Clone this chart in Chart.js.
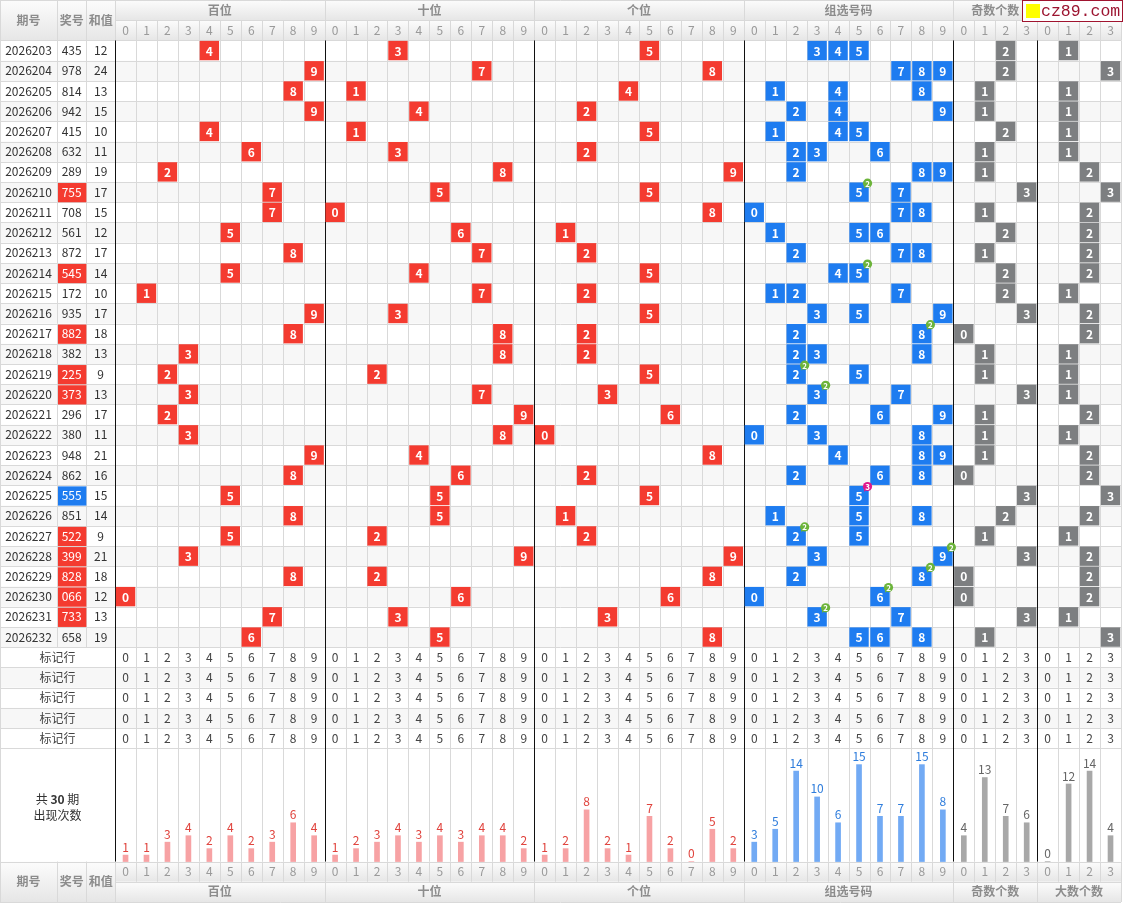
<!DOCTYPE html>
<html lang="zh-CN">
<head>
<meta charset="utf-8">
<title>排列三 组选走势图</title>
<script src="https://cdn.jsdelivr.net/npm/chart.js@4.4.1/dist/chart.umd.min.js"></script>
<style>
  html, body { margin: 0; padding: 0; background: #fff; }
  #wrap { width: 1126px; height: 905px; }
</style>
</head>
<body>
<div id="wrap"><canvas id="trend" width="1126" height="905"></canvas></div>
<script>
// ========== DATA ==========

const periods = ['2026203', '2026204', '2026205', '2026206', '2026207', '2026208', '2026209', '2026210',
    '2026211', '2026212', '2026213', '2026214', '2026215', '2026216', '2026217', '2026218', '2026219',
    '2026220', '2026221', '2026222', '2026223', '2026224', '2026225', '2026226', '2026227', '2026228',
    '2026229', '2026230', '2026231', '2026232'];
const draws = ['435', '978', '814', '942', '415', '632', '289', '755', '708', '561', '872', '545', '172',
    '935', '882', '382', '225', '373', '296', '380', '948', '862', '555', '851', '522', '399', '828',
    '066', '733', '658'];
const sums = [12, 24, 13, 15, 10, 11, 19, 17, 15, 12, 17, 14, 10, 17, 18, 13, 9, 13, 17, 11, 21, 16, 15,
    14, 9, 21, 18, 12, 13, 19];

const digitTicks = ['0', '1', '2', '3', '4', '5', '6', '7', '8', '9'];
const countTicks = ['0', '1', '2', '3'];
const groupNames = ['百位', '十位', '个位', '组选号码', '奇数个数', '大数个数'];

// occurrences over the 30 draws (bottom bar block)
const hundredsCount = [1, 1, 3, 4, 2, 4, 2, 3, 6, 4];
const tensCount = [1, 2, 3, 4, 3, 4, 3, 4, 4, 2];
const unitsCount = [1, 2, 8, 2, 1, 7, 2, 0, 5, 2];
const comboCount = [3, 5, 14, 10, 6, 15, 7, 7, 15, 8];
const oddCount = [4, 13, 7, 6];
const bigCount = [0, 12, 14, 4];

// ========== LAYOUT (table units) ==========

const X_MIN = -5.49, X_MAX = 48;
const LEFT_EDGES = [-5.49, -2.77, -1.37, 0];
const GROUP_START = [0, 10, 20, 30, 40, 44];
const GROUP_END = [10, 20, 30, 40, 44, 48];
const DATA_TOP = 2, MARK_TOP = 32, MARK_ROWS = 5, BAR_TOP = 37, FOOT_TOP = 42.6, Y_MAX = 44.6;
const COUNT_PER_ROW = 3.13;

const FONT = '"Noto Sans CJK SC", "Noto Sans", sans-serif';
const RED = '#f43b30', BLUE = '#1e7cf0', GRAY = '#7d7f81';
const LINE = '#d9d9d9', STRIPE = '#f7f7f7';

// ========== CELLS ==========

const posCells = [], comboCells = [], countCells = [];
draws.forEach((d, i) => {
    const y = DATA_TOP + i + 0.5;
    const nums = d.split('').map(Number);
    nums.forEach((n, k) => posCells.push({ x: k * 10 + n + 0.5, y, v: n }));
    const seen = {};
    nums.forEach(n => { seen[n] = (seen[n] || 0) + 1; });
    Object.keys(seen).forEach(n => comboCells.push({ x: 30 + Number(n) + 0.5, y, v: n, n: seen[n] }));
    const odd = nums.filter(n => n % 2 === 1).length;
    const big = nums.filter(n => n >= 5).length;
    countCells.push({ x: 40 + odd + 0.5, y, v: odd });
    countCells.push({ x: 44 + big + 0.5, y, v: big });
});

const barSets = [hundredsCount, tensCount, unitsCount, comboCount, oddCount, bigCount];
const barFill = ['#f7a2a4', '#f7a2a4', '#f7a2a4', '#72aaf4', '#a8a8a8', '#a8a8a8'];
const barText = ['#e0433d', '#e0433d', '#e0433d', '#2f7ddc', '#666', '#666'];
const barData = [], barColors = [], barLabelColors = [];
barSets.forEach((arr, g) => {
    arr.forEach((c, d) => {
        barData.push({ x: GROUP_START[g] + d + 0.5, y: c });
        barColors.push(barFill[g]);
        barLabelColors.push(barText[g]);
    });
});

// ========== HELPERS ==========

function text(ctx, s, x, y, font, color, align) {
    ctx.font = font;
    ctx.fillStyle = color;
    ctx.textAlign = align || 'center';
    ctx.textBaseline = 'middle';
    ctx.fillText(s, x, y);
}

function crisp(p) {
    return Math.round(p) + 0.5;
}

// ========== TABLE PLUGIN ==========

const tablePlugin = {
    id: 'trendTable',
    beforeDatasetsDraw(chart) {
        const { ctx } = chart;
        const X = v => chart.scales.x.getPixelForValue(v);
        const Y = v => chart.scales.y.getPixelForValue(v);

        const band = (x0, x1, y0, y1, fill) => {
            ctx.fillStyle = fill;
            ctx.fillRect(X(x0), Y(y0), X(x1) - X(x0), Y(y1) - Y(y0));
        };
        const grad = (x0, x1, y0, y1) => {
            const g = ctx.createLinearGradient(0, Y(y0), 0, Y(y1));
            g.addColorStop(0, '#fcfcfc');
            g.addColorStop(1, '#e6e6e6');
            band(x0, x1, y0, y1, g);
        };
        const hLine = (x0, x1, y, color) => {
            ctx.strokeStyle = color || LINE;
            ctx.beginPath();
            ctx.moveTo(X(x0), crisp(Y(y)));
            ctx.lineTo(X(x1), crisp(Y(y)));
            ctx.stroke();
        };
        const vLine = (x, y0, y1, color) => {
            ctx.strokeStyle = color || LINE;
            ctx.beginPath();
            ctx.moveTo(crisp(X(x)), Y(y0));
            ctx.lineTo(crisp(X(x)), Y(y1));
            ctx.stroke();
        };

        ctx.save();
        ctx.lineWidth = 1;
        band(X_MIN, X_MAX, 0, Y_MAX, '#fff');

        // striped rows
        for (let i = 1; i < periods.length; i += 2) band(X_MIN, X_MAX, DATA_TOP + i, DATA_TOP + i + 1, STRIPE);
        for (let i = 1; i < MARK_ROWS; i += 2) band(X_MIN, X_MAX, MARK_TOP + i, MARK_TOP + i + 1, STRIPE);

        // header + footer shading
        for (let k = 0; k < 3; k++) {
            grad(LEFT_EDGES[k], LEFT_EDGES[k + 1], 0, DATA_TOP);
            grad(LEFT_EDGES[k], LEFT_EDGES[k + 1], FOOT_TOP, Y_MAX);
        }
        grad(0, X_MAX, 0, 1);
        grad(0, X_MAX, 1, 2);
        grad(0, X_MAX, FOOT_TOP, FOOT_TOP + 1);
        grad(0, X_MAX, FOOT_TOP + 1, Y_MAX);

        // horizontal rules
        hLine(X_MIN, X_MAX, 0);
        hLine(0, X_MAX, 1);
        for (let r = DATA_TOP; r <= BAR_TOP; r++) hLine(X_MIN, X_MAX, r);
        hLine(X_MIN, X_MAX, FOOT_TOP);
        hLine(0, X_MAX, FOOT_TOP + 1);
        hLine(X_MIN, X_MAX, Y_MAX);

        // vertical rules
        for (let c = 0; c <= X_MAX; c++) {
            const edge = GROUP_START.includes(c) || c === X_MAX;
            vLine(c, edge ? 0 : 1, DATA_TOP);
            vLine(c, DATA_TOP, FOOT_TOP);
            vLine(c, FOOT_TOP, edge ? Y_MAX : FOOT_TOP + 1);
        }
        vLine(X_MIN, 0, Y_MAX);
        [LEFT_EDGES[1], LEFT_EDGES[2]].forEach(e => {
            vLine(e, 0, MARK_TOP);
            vLine(e, FOOT_TOP, Y_MAX);
        });
        GROUP_START.forEach(c => vLine(c, DATA_TOP, FOOT_TOP, '#111'));

        // header / footer captions
        const HEAD_FONT = '12px ' + FONT;
        const leftNames = ['期号', '奖号', '和值'];
        leftNames.forEach((s, k) => {
            const cx = (X(LEFT_EDGES[k]) + X(LEFT_EDGES[k + 1])) / 2;
            text(ctx, s, cx, Y(1), 'bold ' + HEAD_FONT, '#8c8c8c');
            text(ctx, s, cx, Y(FOOT_TOP + 1), 'bold ' + HEAD_FONT, '#8c8c8c');
        });
        groupNames.forEach((s, g) => {
            const cx = (X(GROUP_START[g]) + X(GROUP_END[g])) / 2;
            text(ctx, s, cx, Y(0.5), 'bold ' + HEAD_FONT, '#8c8c8c');
            text(ctx, s, cx, Y(FOOT_TOP + 1.5), 'bold ' + HEAD_FONT, '#8c8c8c');
            const ticks = g < 4 ? digitTicks : countTicks;
            ticks.forEach((t, d) => {
                const x = X(GROUP_START[g] + d + 0.5);
                text(ctx, t, x, Y(1.5), HEAD_FONT, '#9a9a9a');
                text(ctx, t, x, Y(FOOT_TOP + 0.5), HEAD_FONT, '#9a9a9a');
            });
        });

        // period / draw / sum columns
        const cxs = [0, 1, 2].map(k => (X(LEFT_EDGES[k]) + X(LEFT_EDGES[k + 1])) / 2);
        periods.forEach((p, i) => {
            const y = Y(DATA_TOP + i + 0.5);
            text(ctx, p, cxs[0], y, '12px ' + FONT, '#333');
            const d = draws[i];
            const distinct = new Set(d.split('')).size;
            let color = '#333';
            if (distinct < 3) {
                ctx.fillStyle = distinct === 1 ? BLUE : RED;
                const x0 = X(LEFT_EDGES[1]) + 1, x1 = X(LEFT_EDGES[2]);
                const y0 = Y(DATA_TOP + i) + 1, y1 = Y(DATA_TOP + i + 1);
                ctx.fillRect(x0, y0, x1 - x0, y1 - y0);
                color = '#fff';
            }
            text(ctx, d, cxs[1], y, '12px ' + FONT, color);
            text(ctx, String(sums[i]), cxs[2], y, '12px ' + FONT, '#333');
        });

        // marker rows
        const leftMid = (X(X_MIN) + X(0)) / 2;
        for (let m = 0; m < MARK_ROWS; m++) {
            const y = Y(MARK_TOP + m + 0.5);
            text(ctx, '标记行', leftMid, y, '12px ' + FONT, '#444');
            GROUP_START.forEach((start, g) => {
                const ticks = g < 4 ? digitTicks : countTicks;
                ticks.forEach((t, d) => text(ctx, t, X(start + d + 0.5), y, '12px ' + FONT, '#444'));
            });
        }

        // bar block caption
        const capY = Y(BAR_TOP + 2.55);
        ctx.font = '12px ' + FONT;
        const wA = ctx.measureText('共 ').width, wC = ctx.measureText(' 期').width;
        ctx.font = 'bold 12px ' + FONT;
        const wB = ctx.measureText('30').width;
        let sx = leftMid - (wA + wB + wC) / 2;
        text(ctx, '共 ', sx, capY, '12px ' + FONT, '#333', 'left');
        text(ctx, '30', sx + wA, capY, 'bold 12px ' + FONT, '#333', 'left');
        text(ctx, ' 期', sx + wA + wB, capY, '12px ' + FONT, '#333', 'left');
        text(ctx, '出现次数', leftMid, capY + 16, '12px ' + FONT, '#333');

        ctx.restore();
    },

    afterDatasetsDraw(chart) {
        const { ctx } = chart;
        ctx.save();
        // numbers inside the cells
        [0, 1, 2].forEach(di => {
            const ds = chart.data.datasets[di];
            chart.getDatasetMeta(di).data.forEach((el, j) => {
                text(ctx, String(ds.data[j].v), el.x, el.y + 0.5, 'bold 12px ' + FONT, '#fff');
            });
        });
        // repeat badges on the group cells
        const combo = chart.data.datasets[1];
        chart.getDatasetMeta(1).data.forEach((el, j) => {
            const n = combo.data[j].n;
            if (n < 2) return;
            const bx = el.x + 8.5, by = el.y - 9;
            ctx.fillStyle = n === 3 ? '#e0178a' : '#6cb43a';
            ctx.beginPath();
            ctx.moveTo(bx - 3.5, by + 5.5);
            ctx.lineTo(bx - 1, by + 2);
            ctx.lineTo(bx - 3.5, by + 1);
            ctx.closePath();
            ctx.fill();
            ctx.beginPath();
            ctx.arc(bx, by, 4.6, 0, Math.PI * 2);
            ctx.fill();
            text(ctx, String(n), bx, by + 0.5, 'bold 8px ' + FONT, '#fff');
        });
        // occurrence numbers above bars
        chart.getDatasetMeta(3).data.forEach((el, j) => {
            text(ctx, String(barData[j].y), el.x, el.y - 8, '12px ' + FONT, barLabelColors[j]);
        });
        ctx.restore();
    },

    afterDraw(chart) {
        // site badge in the top right corner
        const { ctx } = chart;
        ctx.save();
        ctx.fillStyle = '#fff';
        ctx.fillRect(1022, 0, 101, 22);
        ctx.strokeStyle = '#a0142f';
        ctx.lineWidth = 1;
        ctx.strokeRect(1022.5, 0.5, 100, 21);
        ctx.fillStyle = '#ffff00';
        ctx.fillRect(1026, 4, 14, 14);
        text(ctx, 'cz89.com', 1041, 11.5, '16.5px "Liberation Mono", "DejaVu Sans Mono", monospace', '#9c1430', 'left');
        ctx.restore();
    }
};

// ========== CHART ==========

const cellPoint = {
    pointStyle: 'rect',
    pointRadius: 13.7,
    pointHoverRadius: 13.7,
    borderWidth: 0
};

new Chart(document.getElementById('trend'), {
    type: 'scatter',
    data: {
        datasets: [
            Object.assign({ label: '定位', data: posCells, backgroundColor: RED }, cellPoint),
            Object.assign({ label: '组选号码', data: comboCells, backgroundColor: BLUE }, cellPoint),
            Object.assign({ label: '个数', data: countCells, backgroundColor: GRAY }, cellPoint),
            {
                type: 'bar',
                label: '出现次数',
                data: barData,
                yAxisID: 'yc',
                backgroundColor: barColors,
                barThickness: 5,
                borderWidth: 0
            }
        ]
    },
    options: {
        responsive: false,
        animation: false,
        events: [],
        layout: { autoPadding: false, padding: { left: 0, top: 0, right: 5, bottom: 3 } },
        plugins: {
            legend: { display: false },
            tooltip: { enabled: false }
        },
        scales: {
            x: { type: 'linear', min: X_MIN, max: X_MAX, offset: false, display: false },
            y: { type: 'linear', min: 0, max: Y_MAX, reverse: true, offset: false, display: false },
            yc: {
                type: 'linear',
                min: -(Y_MAX - FOOT_TOP) * COUNT_PER_ROW,
                max: FOOT_TOP * COUNT_PER_ROW,
                offset: false,
                display: false
            }
        }
    },
    plugins: [tablePlugin]
});
</script>
</body>
</html>
